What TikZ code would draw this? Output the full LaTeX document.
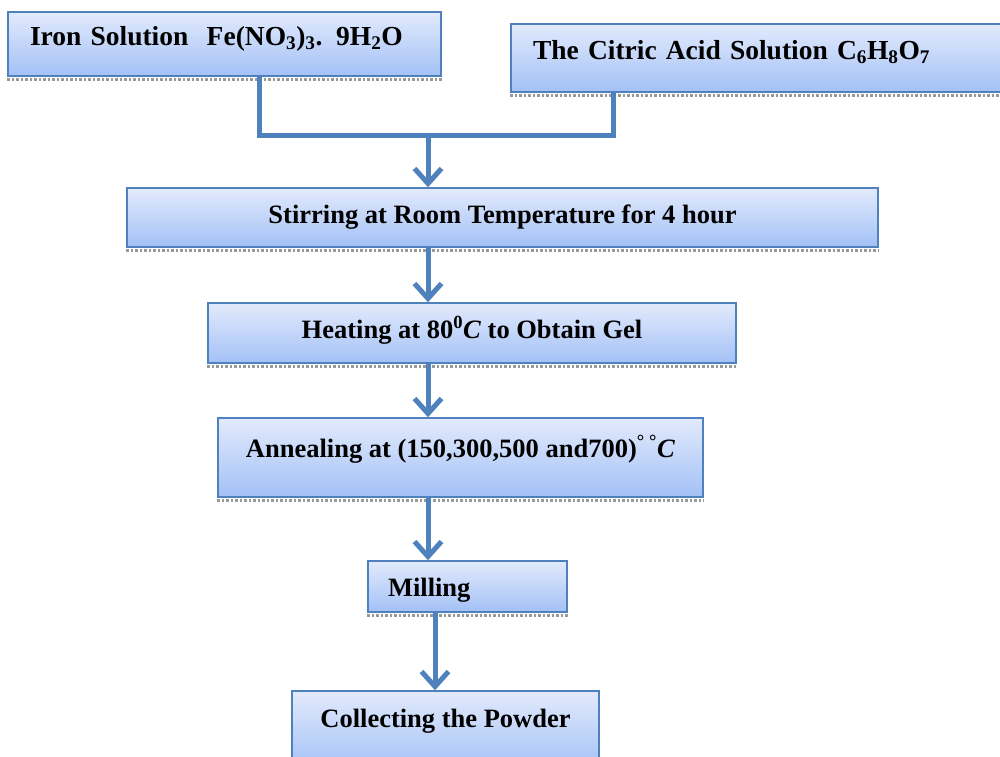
\documentclass[tikz,border=0pt]{standalone}
\usepackage{fontspec}
\setmainfont{Liberation Serif}
\usetikzlibrary{arrows.meta}
\definecolor{boxtop}{RGB}{226,234,252}
\definecolor{boxbot}{RGB}{163,193,246}
\definecolor{edge}{RGB}{79,129,189}
\begin{document}
\begin{tikzpicture}[x=1pt,y=-1pt,
  box/.style={draw=edge, line width=1.5pt, top color=boxtop, bottom color=boxbot,
    inner xsep=0pt, inner ysep=0pt, anchor=base, font=\fontsize{26.5}{30}\selectfont\bfseries},
  leftbox/.style={box, align=left},
  chem/.style={font=\fontsize{27.5}{30}\selectfont\bfseries},
  conn/.style={draw=edge, line width=5pt},
  arr/.style={conn, -{Straight Barb[length=15pt,width=27pt]}},
  shadowline/.style={draw=gray!80, line width=2.5pt, dotted}]
\useasboundingbox (0,0) rectangle (1000,756);
% boxes
\node[leftbox, chem, text width=389pt, inner xsep=22pt, text height=33pt, text depth=31pt]
  (iron) at (224.5,45) {Iron Solution\ \ Fe(NO\textsubscript{3})\textsubscript{3}. 9H\textsubscript{2}O};
\node[leftbox, chem, text width=455pt, inner xsep=22pt, text height=35pt, text depth=33pt]
  (citric) at (760.5,59) {The Citric Acid Solution C\textsubscript{6}H\textsubscript{8}O\textsubscript{7}};
\node[box, minimum width=751pt, text height=35pt, text depth=24pt]
  (stir) at (502.5,223) {Stirring at Room Temperature for 4 hour};
\node[box, minimum width=528pt, text height=35pt, text depth=25pt]
  (heat) at (472,338) {Heating at 80\textsuperscript{0}\textit{C} to Obtain Gel};
\node[box, minimum width=485pt, text height=39pt, text depth=40pt]
  (anneal) at (460.5,457) {Annealing at (150,300,500 and700)\textsuperscript{\textdegree}\,\textsuperscript{\textdegree}\textit{C}};
\node[leftbox, text width=159pt, inner xsep=20pt, text height=35pt, text depth=16pt]
  (mill) at (467.5,596) {Milling};
\node[box, minimum width=307pt, text height=36pt, text depth=43pt]
  (coll) at (445.5,727) {Collecting the Powder};
% shadows
\foreach \n in {iron,citric,stir,heat,anneal,mill}
  \draw[shadowline] ([yshift=-2.5pt]\n.south west) -- ([yshift=-2.5pt]\n.south east);
% junction coordinates
\coordinate (ja) at (259,135);
\coordinate (jb) at (613,135);
\coordinate (j) at (428,135);
\coordinate (k) at (435,650);
% connectors
\draw[conn] (iron.south -| ja) -- (ja) -- (jb) -- (citric.south -| jb);
\draw[arr] (j) -- (stir.north -| j);
\draw[arr] (stir.south -| j) -- (heat.north -| j);
\draw[arr] (heat.south -| j) -- (anneal.north -| j);
\draw[arr] (anneal.south -| j) -- (mill.north -| j);
\draw[arr] (mill.south -| k) -- (coll.north -| k);
\end{tikzpicture}
\end{document}
